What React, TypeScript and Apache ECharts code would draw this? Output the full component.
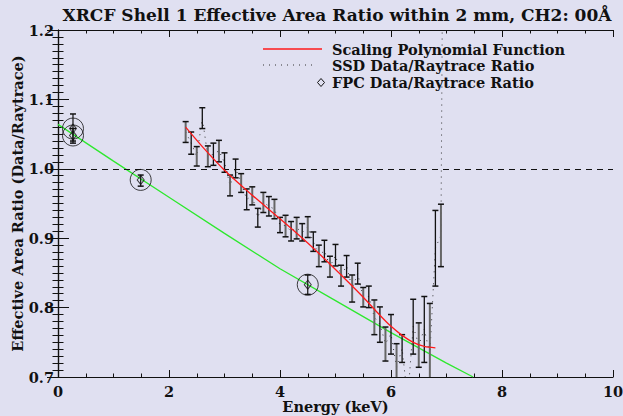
import React, { useEffect, useRef } from "react";
import * as echarts from "echarts";

const TITLE = "XRCF Shell 1 Effective Area Ratio within 2 mm, CH2: 00Å";
const X_NAME = "Energy (keV)";
const Y_NAME = "Effective Area Ratio (Data/Raytrace)";
const LEGEND_LABELS = ["Scaling Polynomial Function", "SSD Data/Raytrace Ratio", "FPC Data/Raytrace Ratio"];

// SSD data (error bars)
const ssdEnergy = [2.3, 2.4, 2.5, 2.6, 2.7, 2.8, 2.9, 3.0, 3.1, 3.2, 3.3, 3.4, 3.5, 3.6, 3.7, 3.8, 3.9, 4.0, 4.1, 4.2, 4.3, 4.4, 4.5, 4.6, 4.7, 4.8, 4.9, 5.0, 5.1, 5.2, 5.3, 5.4, 5.5, 5.6, 5.7, 5.8, 5.9, 6.0, 6.1, 6.2, 6.3, 6.4, 6.5, 6.6, 6.7, 6.8, 6.9];
const ssdLow = [1.038, 1.021, 1.004, 1.058, 1.003, 1.005, 1.010, 0.995, 0.961, 0.987, 0.966, 0.941, 0.948, 0.916, 0.937, 0.932, 0.928, 0.908, 0.902, 0.896, 0.899, 0.896, 0.901, 0.881, 0.859, 0.866, 0.844, 0.860, 0.831, 0.844, 0.808, 0.834, 0.801, 0.800, 0.761, 0.750, 0.723, 0.733, 0.680, 0.721, 0.640, 0.733, 0.714, 0.721, 0.660, 0.831, 0.859];
const ssdHigh = [1.068, 1.053, 1.032, 1.088, 1.033, 1.037, 1.041, 1.023, 0.991, 1.014, 0.993, 0.971, 0.974, 0.943, 0.966, 0.960, 0.956, 0.930, 0.933, 0.924, 0.930, 0.921, 0.931, 0.909, 0.890, 0.897, 0.874, 0.891, 0.861, 0.875, 0.847, 0.864, 0.829, 0.831, 0.811, 0.801, 0.772, 0.790, 0.748, 0.761, 0.695, 0.812, 0.778, 0.816, 0.806, 0.940, 0.949];

// SSD ratio (dotted line)
const ssdRatioEnergy = [2.3, 2.4, 2.5, 2.6, 2.7, 2.8, 2.9, 3.0, 3.1, 3.2, 3.3, 3.4, 3.5, 3.6, 3.7, 3.8, 3.9, 4.0, 4.1, 4.2, 4.3, 4.4, 4.5, 4.6, 4.7, 4.8, 4.9, 5.0, 5.1, 5.2, 5.3, 5.4, 5.5, 5.6, 5.7, 5.8, 5.9, 6.0, 6.1, 6.2, 6.3, 6.4, 6.5, 6.6, 6.7, 6.8, 6.9, 6.93];
const ssdRatio = [1.053, 1.037, 1.018, 1.073, 1.018, 1.021, 1.026, 1.009, 0.976, 1.000, 0.980, 0.956, 0.961, 0.930, 0.952, 0.946, 0.942, 0.919, 0.918, 0.910, 0.915, 0.908, 0.916, 0.895, 0.875, 0.882, 0.859, 0.875, 0.846, 0.860, 0.828, 0.849, 0.815, 0.816, 0.786, 0.776, 0.748, 0.762, 0.714, 0.741, 0.668, 0.773, 0.746, 0.769, 0.733, 0.886, 0.904, 1.30];

// Scaling polynomial (red)
const polyEnergy = [2.3, 2.6, 3.0, 3.5, 4.0, 4.5, 5.0, 5.5, 5.8, 6.0, 6.2, 6.4, 6.6, 6.8];
const polyValue = [1.060, 1.032, 0.998, 0.962, 0.928, 0.893, 0.855, 0.815, 0.789, 0.773, 0.760, 0.750, 0.744, 0.742];

// Green reference line
const fitEnergy = [0, 1, 2, 3, 4, 5, 6, 7, 7.48];
const fitValue = [1.064, 1.011, 0.959, 0.907, 0.856, 0.810, 0.764, 0.720, 0.700];

// FPC data
const fpcEnergy = [0.27, 0.27, 1.49, 4.5];
const fpcValue = [1.058, 1.048, 0.984, 0.833];
const fpcLow = [1.037, 1.040, 0.975, 0.819];
const fpcHigh = [1.079, 1.058, 0.991, 0.847];

const X_TICKS = { min: 0, max: 10, interval: 2 };
const Y_TICKS = { min: 0.7, max: 1.2, interval: 0.1 };

const FONT = "DejaVu Serif";
const BG = "#e0e0f1";
const INK = "#111";
const FS = 14.5;

export default function App() {
  const ref = useRef<HTMLDivElement>(null);
  useEffect(() => {
    document.body.style.margin = "0";
    document.body.style.background = BG;
    const chart = echarts.init(ref.current!, null, { renderer: "svg" });

    const errRender = (color: string, width: number, cap: number) => (params: any, api: any) => {
      const x = api.value(0);
      let lo = api.value(1);
      let hi = api.value(2);
      const loClip = lo < Y_TICKS.min;
      const hiClip = hi > Y_TICKS.max;
      if (loClip) lo = Y_TICKS.min;
      if (hiClip) hi = Y_TICKS.max;
      if (hi <= lo) return { type: "group", children: [] };
      const p1 = api.coord([x, lo]);
      const p2 = api.coord([x, hi]);
      const style = { stroke: color, lineWidth: width };
      const children: any[] = [
        { type: "line", shape: { x1: p1[0], y1: p1[1], x2: p2[0], y2: p2[1] }, style },
      ];
      if (!loClip) children.push({ type: "line", shape: { x1: p1[0] - cap, y1: p1[1], x2: p1[0] + cap, y2: p1[1] }, style: { stroke: INK, lineWidth: 1.5 } });
      if (!hiClip) children.push({ type: "line", shape: { x1: p2[0] - cap, y1: p2[1], x2: p2[0] + cap, y2: p2[1] }, style: { stroke: INK, lineWidth: 1.5 } });
      return { type: "group", children };
    };

    const ssdA: number[][] = [];
    const ssdB: number[][] = [];
    ssdEnergy.forEach((e, i) => {
      (i % 2 === 0 ? ssdA : ssdB).push([e, ssdLow[i], ssdHigh[i]]);
    });

    const axisLine = { show: true, lineStyle: { color: INK, width: 1.2 } };
    const labelStyle = { fontFamily: FONT, fontWeight: "bold" as const, fontSize: FS, color: INK };

    const xCommon = {
      type: "value" as const,
      min: X_TICKS.min,
      max: X_TICKS.max,
      interval: X_TICKS.interval,
      axisLine,
      splitLine: { show: false },
      axisTick: { show: true, inside: true, length: 7, lineStyle: { color: INK } },
      minorTick: { show: true, splitNumber: 4, length: 3.5, lineStyle: { color: INK } },
    };
    const yCommon = {
      type: "value" as const,
      min: Y_TICKS.min,
      max: Y_TICKS.max,
      interval: Y_TICKS.interval,
      axisLine,
      splitLine: { show: false },
      axisTick: { show: true, inside: true, length: 11, lineStyle: { color: INK } },
      minorTick: { show: true, splitNumber: 10, length: 5.5, lineStyle: { color: INK } },
    };

    const legendText = (text: string, y: number) => ({
      type: "text",
      x: 332,
      y,
      style: { text, fontFamily: FONT, fontWeight: "bold", fontSize: FS, fill: INK, verticalAlign: "middle" },
    });

    chart.setOption({
      animation: false,
      backgroundColor: BG,
      grid: { left: 58, right: 10, top: 30, bottom: 39, outerBoundsMode: "none" },
      xAxis: [
        {
          ...xCommon,
          position: "bottom",
          name: X_NAME,
          nameLocation: "middle",
          nameGap: 22,
          nameMoveOverlap: false,
          nameTextStyle: labelStyle,
          axisLabel: { ...labelStyle, margin: 7, formatter: (v: number) => String(v) },
        },
        { ...xCommon, position: "top", axisLabel: { show: false } },
      ],
      yAxis: [
        {
          ...yCommon,
          position: "left",
          name: Y_NAME,
          nameLocation: "middle",
          nameGap: 33,
          nameMoveOverlap: false,
          nameTextStyle: labelStyle,
          axisLabel: { ...labelStyle, margin: 4, formatter: (v: number) => v.toFixed(1) },
        },
        { ...yCommon, position: "right", axisLabel: { show: false } },
      ],
      series: [
        {
          type: "line",
          name: "fit",
          data: fitEnergy.map((e, i) => [e, fitValue[i]]),
          showSymbol: false,
          lineStyle: { color: "#2ee82e", width: 1.3 },
          z: 2,
          markLine: {
            silent: true,
            symbol: "none",
            label: { show: false },
            lineStyle: { color: INK, type: [6, 5], width: 1 },
            data: [{ yAxis: 1.0 }],
          },
        },
        {
          type: "line",
          name: LEGEND_LABELS[1],
          data: ssdRatioEnergy.map((e, i) => [e, ssdRatio[i]]),
          showSymbol: false,
          lineStyle: { color: "#333", width: 1, type: [1, 5] },
          z: 3,
        },
        {
          type: "custom",
          name: "ssdA",
          data: ssdA,
          renderItem: errRender("#666", 2, 3),
          z: 4,
        },
        {
          type: "custom",
          name: "ssdB",
          data: ssdB,
          renderItem: errRender(INK, 1.3, 3),
          z: 4,
        },
        {
          type: "line",
          name: LEGEND_LABELS[0],
          data: polyEnergy.map((e, i) => [e, polyValue[i]]),
          showSymbol: false,
          smooth: 0.3,
          lineStyle: { color: "#ff1a1a", width: 1.3 },
          z: 5,
        },
        {
          type: "custom",
          name: "fpcErr",
          data: fpcEnergy.map((e, i) => [e, fpcLow[i], fpcHigh[i]]),
          renderItem: errRender(INK, 1.2, 3),
          z: 6,
        },
        {
          type: "scatter",
          name: LEGEND_LABELS[2],
          data: fpcEnergy.map((e, i) => [e, fpcValue[i]]),
          symbol: "diamond",
          symbolSize: [7, 9],
          itemStyle: { color: "rgba(0,0,0,0)", borderColor: INK, borderWidth: 1 },
          z: 7,
        },
        {
          type: "scatter",
          name: "fpcCircle",
          data: fpcEnergy.map((e, i) => [e, fpcValue[i]]),
          symbol: "circle",
          symbolSize: 21,
          itemStyle: { color: "rgba(0,0,0,0)", borderColor: INK, borderWidth: 1 },
          z: 7,
        },
      ],
      graphic: [
        {
          type: "text",
          x: 337,
          y: 15,
          style: { text: TITLE, fontFamily: FONT, fontWeight: "bold", fontSize: 17, fill: INK, align: "center", verticalAlign: "middle" },
        },
        { type: "line", shape: { x1: 263, y1: 49, x2: 322, y2: 49 }, style: { stroke: "#ff1a1a", lineWidth: 1.3 } },
        legendText(LEGEND_LABELS[0], 49),
        { type: "line", shape: { x1: 263, y1: 65, x2: 314, y2: 65 }, style: { stroke: "#333", lineWidth: 1, lineDash: [1, 5] } },
        legendText(LEGEND_LABELS[1], 65),
        { type: "polygon", shape: { points: [[321, 78.5], [324.5, 82.5], [321, 86.5], [317.5, 82.5]] }, style: { fill: "none", stroke: INK, lineWidth: 1 } },
        legendText(LEGEND_LABELS[2], 82.5),
      ],
    });
    return () => chart.dispose();
  }, []);
  return <div ref={ref} style={{ width: 623, height: 416, background: BG }} />;
}
